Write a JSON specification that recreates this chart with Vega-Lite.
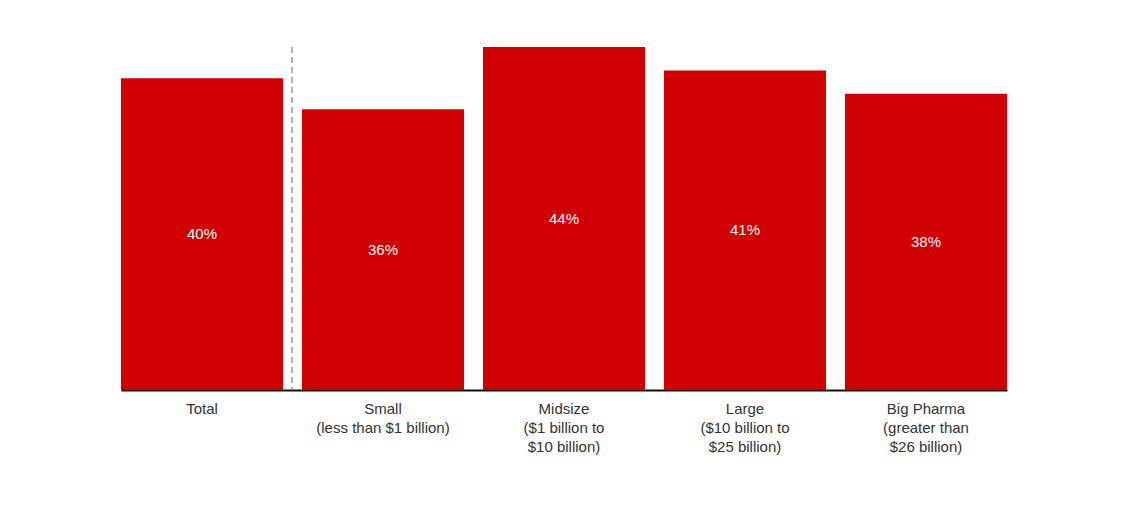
{
  "$schema": "https://vega.github.io/schema/vega-lite/v6.json",
  "width": 886,
  "height": 343,
  "autosize": {"type": "none"},
  "padding": {"left": 121, "top": 47, "right": 121, "bottom": 118},
  "background": "white",
  "config": {
    "view": {"stroke": null},
    "font": "Liberation Sans"
  },
  "data": {
    "values": [
      {"cat": "Total", "value": 40, "label": "40%"},
      {"cat": "Small|(less than $1 billion)", "value": 36, "label": "36%"},
      {"cat": "Midsize|($1 billion to|$10 billion)", "value": 44, "label": "44%"},
      {"cat": "Large|($10 billion to|$25 billion)", "value": 41, "label": "41%"},
      {"cat": "Big Pharma|(greater than|$26 billion)", "value": 38, "label": "38%"}
    ]
  },
  "encoding": {
    "x": {
      "field": "cat",
      "type": "nominal",
      "sort": null,
      "scale": {"paddingInner": 0.105, "paddingOuter": 0},
      "axis": {
        "title": null,
        "labelAngle": 0,
        "labelExpr": "split(datum.label, '|')",
        "labelFontSize": 15,
        "labelColor": "#333333",
        "labelLineHeight": 19,
        "labelPadding": 11,
        "labelBaseline": "top",
        "ticks": false,
        "domainColor": "#111111",
        "domainWidth": 2
      }
    }
  },
  "layer": [
    {
      "mark": {"type": "bar", "color": "#d10000"},
      "encoding": {
        "y": {"field": "value", "type": "quantitative", "scale": {"domain": [0, 44], "nice": false}, "axis": null}
      }
    },
    {
      "transform": [{"calculate": "datum.value / 2", "as": "mid"}],
      "mark": {"type": "text", "color": "white", "fontSize": 15, "baseline": "middle"},
      "encoding": {
        "y": {"field": "mid", "type": "quantitative", "scale": {"domain": [0, 44], "nice": false}},
        "text": {"field": "label"}
      }
    },
    {
      "data": {"values": [{"cat": "Small|(less than $1 billion)"}]},
      "mark": {"type": "rule", "color": "#999999", "strokeDash": [6, 4], "strokeWidth": 1.5, "xOffset": -10},
      "encoding": {
        "x": {"field": "cat", "type": "nominal", "bandPosition": 0}
      }
    }
  ]
}
